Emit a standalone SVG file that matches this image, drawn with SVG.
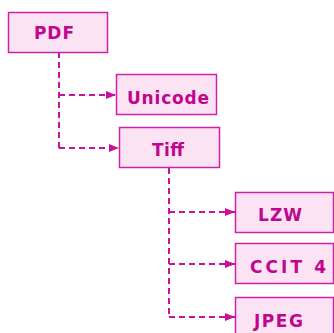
<svg xmlns="http://www.w3.org/2000/svg" width="334" height="333" viewBox="0 0 334 333">
  <defs>
    <marker id="arrow" viewBox="0 0 10 8" refX="10" refY="4" markerWidth="10" markerHeight="8" markerUnits="userSpaceOnUse" orient="auto">
      <path d="M0,0 L10,4 L0,8 Z" fill="#c8109a"/>
    </marker>
    <style>
      .box { fill: #fbe3f4; stroke: #d020a8; stroke-width: 1.5; }
      .label { font-family: "DejaVu Sans", Verdana, sans-serif; font-weight: bold; font-size: 17px; fill: #c0058e; }
      .link { fill: none; stroke: #c8109a; stroke-width: 2; stroke-dasharray: 6 4; }
    </style>
  </defs>
  <rect width="334" height="333" fill="#ffffff"/>

  <!-- connectors -->
  <g id="connectors">
    <path class="link" d="M59,52 V148"/>
    <path class="link" d="M59,95 H116" marker-end="url(#arrow)"/>
    <path class="link" d="M59,148 H119" marker-end="url(#arrow)"/>
    <path class="link" d="M169,168 V317"/>
    <path class="link" d="M169,212 H235" marker-end="url(#arrow)"/>
    <path class="link" d="M169,264 H235" marker-end="url(#arrow)"/>
    <path class="link" d="M169,317 H235" marker-end="url(#arrow)"/>
  </g>

  <g id="pdf">
    <rect class="box" x="8.5" y="12.5" width="99" height="40"/>
    <text class="label" x="34" y="39" textLength="40" lengthAdjust="spacing">PDF</text>
  </g>
  <g id="unicode">
    <rect class="box" x="116.5" y="74.5" width="100" height="40"/>
    <text class="label" x="127" y="104" textLength="82" lengthAdjust="spacing">Unicode</text>
  </g>
  <g id="tiff">
    <rect class="box" x="119.5" y="127.5" width="100" height="40"/>
    <text class="label" x="152" y="156" textLength="32" lengthAdjust="spacing">Tiff</text>
  </g>
  <g id="lzw">
    <rect class="box" x="235.5" y="192.5" width="98" height="40"/>
    <text class="label" x="258" y="221" textLength="44" lengthAdjust="spacing">LZW</text>
  </g>
  <g id="ccit4">
    <rect class="box" x="235.5" y="243.5" width="98" height="40"/>
    <text class="label" x="250" y="273" textLength="76" lengthAdjust="spacing">CCIT 4</text>
  </g>
  <g id="jpeg">
    <rect class="box" x="235.5" y="297.5" width="98" height="40"/>
    <text class="label" x="254" y="327" textLength="49" lengthAdjust="spacing">JPEG</text>
  </g>
</svg>
